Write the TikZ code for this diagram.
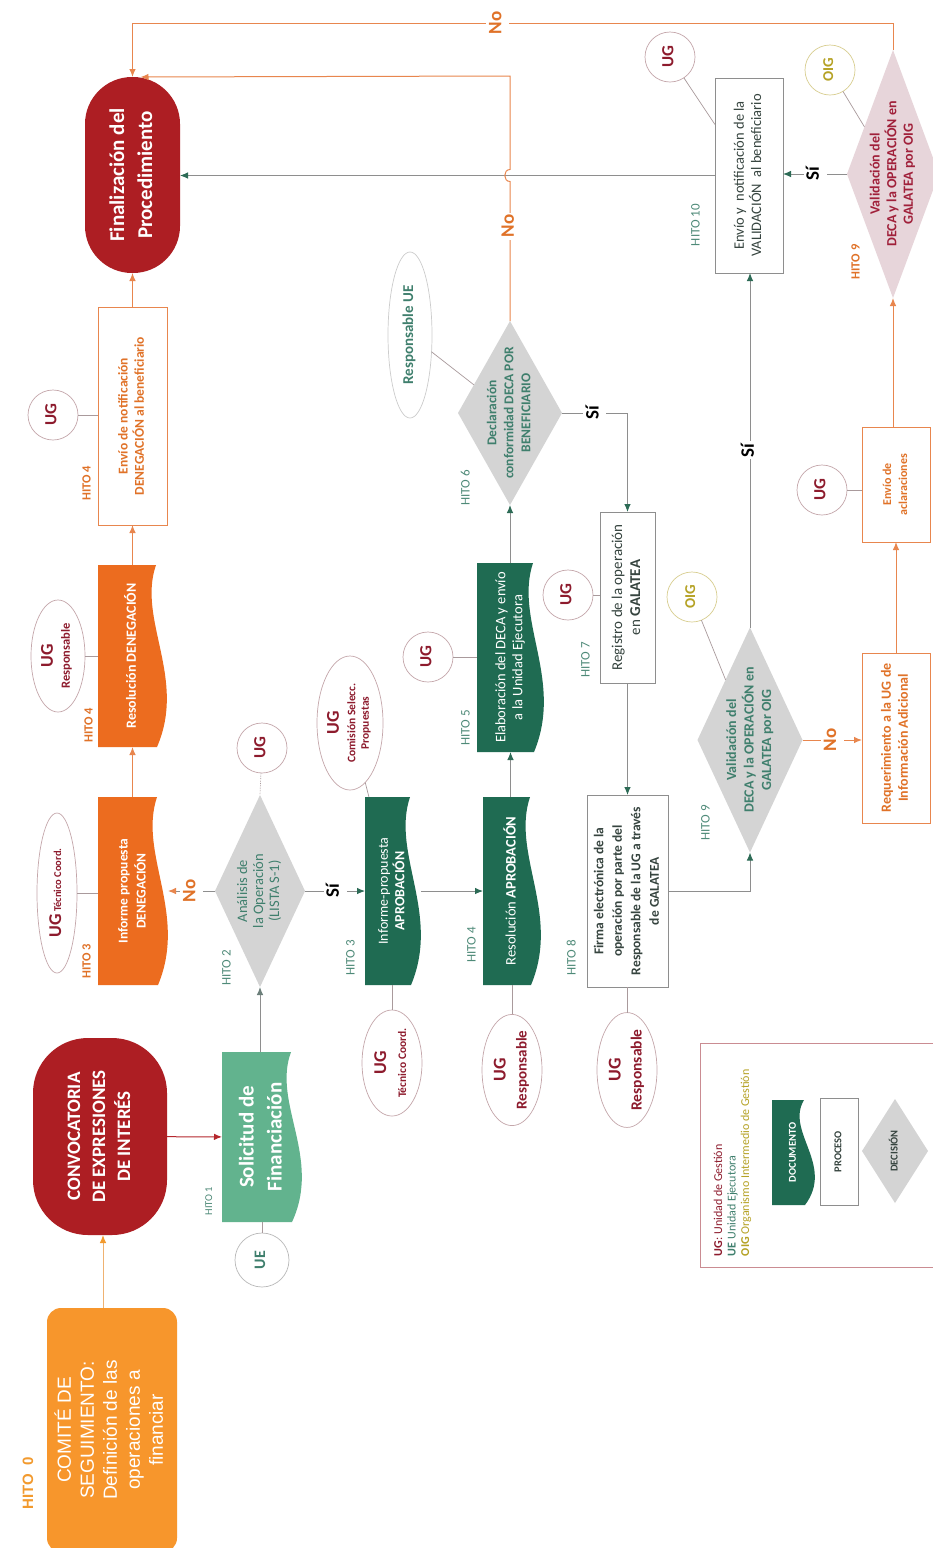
\documentclass[tikz,border=0pt]{standalone}
\usepackage{graphicx}
\usepackage{fontspec}
\setmainfont{Carlito}
\newfontfamily\arialf{Liberation Sans}
\usetikzlibrary{shapes.geometric,arrows.meta,backgrounds,calc}
\definecolor{finred}{HTML}{AD1E23}
\definecolor{docor}{HTML}{EC6C1F}
\definecolor{ortxt}{HTML}{E07228}
\definecolor{orline}{HTML}{E8864E}
\definecolor{comor}{HTML}{F7962C}
\definecolor{comline}{HTML}{EFB271}
\definecolor{hitoc}{HTML}{F29A2E}
\definecolor{dgreen}{HTML}{1F6B52}
\definecolor{lgreen}{HTML}{62B38E}
\definecolor{tealtxt}{HTML}{3F7F6D}
\definecolor{hitoteal}{HTML}{4E8A78}
\definecolor{dmgray}{HTML}{D4D4D4}
\definecolor{pinkd}{HTML}{E7D5DA}
\definecolor{ugred}{HTML}{8D1B2D}
\definecolor{valred}{HTML}{A0203A}
\definecolor{oigy}{HTML}{B5A225}
\definecolor{oigb}{HTML}{D8CE90}
\definecolor{lnray}{HTML}{8E8E8E}
\definecolor{connc}{HTML}{A99A9C}
\definecolor{ellb}{HTML}{C4A6AA}
\definecolor{boxtxt}{HTML}{36443F}
\definecolor{legb}{HTML}{CA8C92}
\definecolor{tipgreen}{HTML}{2D6B56}
\definecolor{redarr}{HTML}{B5272D}
\newcommand{\fsz}[2]{\fontsize{#1}{#2}\selectfont}
\newcommand{\rtx}[1]{\rotatebox{90}{\begin{tabular}{@{}c@{}}#1\end{tabular}}}
\newcommand{\docfill}[2]{\begin{scope}[on background layer]\fill[#2] (#1.north west) -- ($(#1.north east)+(-11,0)$) .. controls ($(#1.north east)!0.3!(#1.south east)+(-30,0)$) and ($(#1.north east)!0.62!(#1.south east)+(20,0)$) .. ($(#1.south east)+(-10,0)$) -- (#1.south west) -- cycle;\end{scope}}
\begin{document}
\begin{tikzpicture}[x=1pt,y=-1pt,
  every node/.style={inner sep=0pt,outer sep=0pt},
  docn/.style={rectangle},
  term/.style={rectangle, text=white},
  pbox/.style={rectangle, draw=lnray, line width=0.9pt, fill=white, text=boxtxt},
  obox/.style={rectangle, draw=orline, line width=0.9pt, fill=white, text=ortxt},
  circ/.style={circle, draw=ellb, line width=0.7pt, fill=white, minimum size=50pt},
  ell/.style={ellipse, draw=ellb, line width=0.7pt, fill=white},
  dia/.style={diamond, fill=dmgray},
  gline/.style={draw=connc, line width=0.7pt},
  garr/.style={draw=lnray, line width=0.9pt, -{Latex[length=8pt,width=6.5pt,color=tipgreen]}},
  oarr/.style={draw=orline, line width=1pt, -{Latex[length=8pt,width=6.5pt]}},
  lab/.style={fill=white, inner sep=2pt, font={\fsz{19}{19}\bfseries}},
  hg/.style={text=hitoteal, font={\fsz{13}{13}}},
  ho/.style={text=ortxt, font={\fsz{12.5}{12.5}\bfseries}},
  ugt/.style={text=ugred, font={\fsz{17}{17}\bfseries}},
]
\useasboundingbox (0,0) rectangle (933,1548);
\begin{scope}[on background layer]\fill[white] (0,0) rectangle (933,1548);\end{scope}

% ---------- terminals
\node[term, fill=finred, rounded corners=47pt, minimum width=95pt, minimum height=196pt, font={\fsz{21}{28}\bfseries}] (fin) at (132.5,175) {\rtx{Finalización del\\Procedimiento}};
\node[term, fill=finred, rounded corners=55pt, minimum width=134pt, minimum height=197pt, font={\fsz{19}{25}\bfseries}] (conv) at (100,1136.5) {\rtx{CONVOCATORIA\\DE EXPRESIONES\\DE INTERÉS}};
\node[term, fill=comor, rounded corners=14pt, minimum width=130pt, minimum height=244pt, font={\arialf\fsz{19}{23}}] (comite) at (112,1430) {\rtx{COMITÉ DE\\SEGUIMIENTO:\\Definición de las\\operaciones a\\financiar}};

% ---------- documents
\node[docn, minimum width=69pt, minimum height=182pt, text=white, font={\fsz{14}{16}\bfseries}] (resden) at (132.5,656) {\rtx{Resolución DENEGACIÓN}\hspace{26pt}};
\docfill{resden}{docor}
\node[docn, minimum width=70pt, minimum height=188pt, text=white, font={\fsz{13.5}{18}\bfseries}] (infden) at (133,891) {\rtx{Informe propuesta\\DENEGACIÓN}\hspace{18pt}};
\docfill{infden}{docor}
\node[docn, minimum width=80pt, minimum height=170pt, text=white, font={\fsz{21}{28}\bfseries}] (sol) at (262,1137) {\rtx{Solicitud de\\Financiación}\hspace{8pt}};
\docfill{sol}{lgreen}
\node[docn, minimum width=56pt, minimum height=188pt, text=white, font={\fsz{14}{15.5}}] (infapr) at (393,891) {\rtx{Informe-propuesta\\\textbf{APROBACIÓN}}\hspace{16pt}};
\docfill{infapr}{dgreen}
\node[docn, minimum width=58pt, minimum height=188pt, text=white, font={\fsz{14.5}{16}}] (resapr) at (512,891) {\rtx{Resolución \textbf{APROBACIÓN}}\hspace{9pt}};
\docfill{resapr}{dgreen}
\node[docn, minimum width=67pt, minimum height=189pt, text=white, font={\fsz{14.5}{17}}] (elab) at (510.5,657.5) {\rtx{Elaboración del DECA y envío\\a la Unidad Ejecutora}\hspace{7pt}};
\docfill{elab}{dgreen}

% ---------- process boxes
\node[obox, minimum width=69pt, minimum height=218pt, font={\fsz{13.5}{16}\bfseries}] (envden) at (132.5,416) {\rtx{Envío de notificación\\DENEGACIÓN al beneficiario}};
\node[pbox, minimum width=55pt, minimum height=171pt, font={\fsz{15}{18}}] (reg) at (627.5,597.5) {\rtx{Registro de la operación\\en \textbf{GALATEA}}};
\node[pbox, minimum width=81pt, minimum height=192pt, font={\fsz{13.5}{18.5}\bfseries}] (firma) at (627.5,891) {\rtx{Firma electrónica de la\\operación por parte del\\Responsable de la UG a través\\de GALATEA}};
\node[pbox, minimum width=68pt, minimum height=195pt, font={\fsz{14.5}{17}}] (envval) at (749,175.5) {\rtx{Envío y\ \ notificación de la\\VALIDACIÓN\ \ al beneficiario}};
\node[obox, minimum width=68pt, minimum height=170pt, font={\fsz{14}{17}\bfseries}] (req) at (896,738) {\rtx{Requerimiento a la UG de\\Información Adicional}};
\node[obox, minimum width=68pt, minimum height=115pt, font={\fsz{12}{16}\bfseries}] (acl) at (896,484.5) {\rtx{Envío de\\aclaraciones}};

% ---------- decisions
\node[dia, minimum width=90pt, minimum height=192pt, label={[name=analisis-t, text=tealtxt, font={\fsz{14.5}{16}}]center:{\rtx{Análisis de\\la Operación\\(LISTA S-1)}}}] (analisis) at (260,891) {};
\node[dia, minimum width=104pt, minimum height=184pt, label={[name=decl-t, text=tealtxt, font={\fsz{13.5}{17}\bfseries}]center:{\rtx{Declaración\\conformidad DECA POR\\BENEFICIARIO}}}] (decl) at (510,413) {};
\node[dia, minimum width=105pt, minimum height=225pt, label={[name=val2-t, text=tealtxt, font={\fsz{14}{17.5}\bfseries}]center:{\rtx{Validación del\\DECA y la OPERACIÓN en\\GALATEA por OIG}}}] (val2) at (750,740) {};
\node[dia, fill=pinkd, minimum width=92pt, minimum height=248pt, label={[name=val1-t, text=valred, font={\fsz{14}{16.5}\bfseries}]center:{\rtx{Validación del\\DECA y la OPERACIÓN en\\GALATEA por OIG}}}] (val1) at (893,174) {};

% ---------- actors
\node[circ, ugt] (ug1) at (53,415) {\rtx{UG}};
\node[circ, ugt] (ug2) at (262,748) {\rtx{UG}};
\node[circ, ugt] (ug3) at (428,657) {\rtx{UG}};
\node[circ, ugt] (ug4) at (568,595) {\rtx{UG}};
\node[circ, ugt] (ug5) at (670,57) {\rtx{UG}};
\node[circ, ugt] (ug6) at (822,490) {\rtx{UG}};
\node[circ, minimum size=54pt, draw=gray!55, text=tealtxt, font={\fsz{16}{16}\bfseries}] (ue) at (262,1260) {\rtx{UE}};
\node[circ, draw=oigb, text=oigy, font={\fsz{15}{15}\bfseries}] (oig2) at (692,597) {\rtx{OIG}};
\node[circ, draw=oigb, text=oigy, font={\fsz{15}{15}\bfseries}] (oig1) at (830,70) {\rtx{OIG}};
\node[ell, minimum width=54pt, minimum height=112pt, text=ugred, font={\fsz{12.5}{17}\bfseries}] (ugresp1) at (58,656) {\rtx{{\fsz{18}{18}UG}\\Responsable}};
\node[ell, minimum width=40pt, minimum height=160pt, text=ugred, font={\fsz{10.5}{12}\bfseries}] (ugtec1) at (57,893) {\rtx{{\fsz{18}{18}UG} Técnico Coord.}};
\node[ell, minimum width=66pt, minimum height=134pt, text=ugred, font={\fsz{11.5}{13.5}\bfseries}] (ugcom) at (350,723) {\rtx{{\fsz{18}{18}UG}\\[3pt]Comisión Selecc.\\Propuestas}};
\node[ell, minimum width=60pt, minimum height=106pt, text=ugred, font={\fsz{11.5}{20}\bfseries}] (ugtec2) at (392,1063) {\rtx{{\fsz{18}{18}UG}\\Técnico Coord.}};
\node[ell, minimum width=60pt, minimum height=108pt, text=ugred, font={\fsz{15}{21}\bfseries}] (ugresp2) at (512,1070) {\rtx{{\fsz{18}{18}UG}\\Responsable}};
\node[ell, minimum width=60pt, minimum height=114pt, text=ugred, font={\fsz{15.5}{21}\bfseries}] (ugresp3) at (627,1070) {\rtx{{\fsz{18}{18}UG}\\Responsable}};
\node[ell, draw=gray!40, minimum width=44pt, minimum height=166pt, text=tealtxt, font={\fsz{15}{15}\bfseries}] (respue) at (410,335) {\rtx{Responsable UE}};

% ---------- hitos
\node[text=hitoc, font={\arialf\fsz{15}{15}\bfseries}] (h0) at (30,1483) {\rtx{HITO\ \ 0}};
\node[hg, font={\fsz{10.5}{10.5}}] (h1) at (210,1201) {\rtx{HITO 1}};
\node[hg] (h2) at (228,968) {\rtx{HITO 2}};
\node[ho] (h3a) at (88,961) {\rtx{HITO 3}};
\node[ho] (h4b) at (90,725) {\rtx{HITO 4}};
\node[ho] (h4a) at (88,483) {\rtx{HITO 4}};
\node[hg] (h3b) at (352,958) {\rtx{HITO 3}};
\node[hg] (h4c) at (473,945) {\rtx{HITO 4}};
\node[hg] (h5) at (467,728) {\rtx{HITO 5}};
\node[hg] (h6) at (467,488) {\rtx{HITO 6}};
\node[hg] (h7) at (587,660) {\rtx{HITO 7}};
\node[hg] (h8) at (573,958) {\rtx{HITO 8}};
\node[hg] (h9b) at (707,823) {\rtx{HITO 9}};
\node[hg] (h10) at (697,225) {\rtx{HITO 10}};
\node[ho] (h9a) at (857,262) {\rtx{HITO 9}};

% ---------- legend
\node[rectangle, draw=legb, line width=0.8pt, minimum width=245pt, minimum height=224pt] (legend) at (822.5,1155) {};
\node[anchor=south, font={\fsz{12}{13.5}}] (legtxt) at (733,1256) {\rotatebox{90}{\begin{tabular}{@{}l@{}}\textcolor{ugred}{\textbf{UG}: Unidad de Gestión}\\ \textcolor{tealtxt}{\textbf{UE} Unidad Ejecutora}\\ \textcolor{oigy}{\textbf{OIG} Organismo Intermedio de Gestión}\end{tabular}}};
\node[docn, minimum width=43pt, minimum height=105pt, text=white, font={\fsz{10.5}{12}\bfseries}] (docleg) at (793.5,1152.5) {\rtx{DOCUMENTO}\hspace{9pt}};
\docfill{docleg}{dgreen}
\node[pbox, minimum width=38pt, minimum height=107pt, font={\fsz{10.5}{12}\bfseries}] (proleg) at (839,1151.5) {\rtx{PROCESO}};
\node[dia, minimum width=66pt, minimum height=104pt, label={[name=decleg-t, text=boxtxt, font={\fsz{10.5}{12}\bfseries}]center:{\rtx{DECISIÓN}}}] (decleg) at (895,1151) {};

% ---------- connectors
\coordinate (ytop) at (0,23);
\coordinate (ymid) at (0,76);
\coordinate (cx103) at (103,0);
\draw[redarr, line width=1pt, -{Latex[length=8pt,width=6.5pt]}] (conv) -- (sol);
\draw[comline, line width=1pt, -{Latex[length=8pt,width=6.5pt,color=hitoc]}] (comite.north -| cx103) -- (conv.south -| cx103);
\draw[draw=lnray, line width=0.9pt, -{Latex[length=8pt,width=6.5pt,color=gray!70!tealtxt]}] (analisis.south |- sol.north) -- (analisis.south);
\draw[draw=lnray, line width=0.9pt, -{Latex[length=8pt,width=6.5pt,color=orline]}] (analisis.west) -- node[lab, text=ortxt]{\rtx{No}} (analisis.west -| infden.east);
\draw[garr] (analisis.east) -- node[lab]{\rtx{Sí}} (infapr.west |- analisis.east);
\draw[oarr] (resden.south |- infden.north) -- (resden.south);
\draw[oarr] (resden.north) -- (envden.south);
\draw[oarr] (envden.north) -- (fin.south);
\draw[garr] (infapr.east) -- (resapr.west |- infapr.east);
\draw[garr] (elab.south |- resapr.north) -- (elab.south);
\draw[garr] (decl.south |- elab.north) -- (decl.south);
\draw[garr] (decl.east) -| node[pos=0.25, lab]{\rtx{Sí}} (reg.north);
\draw[garr] (reg.south) -- (firma.north);
\draw[garr] (firma.east) -| (val2.south);
\draw[garr] (val2.north) -- node[lab]{\rtx{Sí}} (envval.south -| val2.north);
\draw[oarr] (val2.east) -- node[lab, text=ortxt]{\rtx{No}} (req.west |- val2.east);
\draw[oarr] (req.north) -- (acl.south);
\draw[oarr] (val1.south |- acl.north) -- (val1.south);
\draw[garr] (val1.west) -- node[lab]{\rtx{Sí}} (envval.east |- val1.west);
\draw[garr] (envval.west) -- (fin.east |- envval.west);
\draw[oarr] (val1.north) -- (val1.north |- ytop) -- node[pos=0.52, lab, text=ortxt]{\rtx{No}} (fin.north |- ytop) -- (fin.north);
\coordinate (jmp) at (decl.north |- envval.west);
\draw[oarr] (decl.north) -- node[pos=0.68, lab, text=ortxt]{\rtx{No}} ([yshift=-6pt]jmp) .. controls +(-7pt,0) and +(-7pt,0) .. ([yshift=6pt]jmp) -- (decl.north |- ymid) -- ([xshift=8pt]fin.north);

\draw[gline] (ug1) -- (envden.west |- ug1);
\draw[gline] (ugresp1) -- (resden.west |- ugresp1);
\draw[gline] (ugtec1) -- (infden.west |- ugtec1);
\draw[gline, densely dotted] (ug2) -- (analisis.north);
\draw[gline] (ue) -- (sol.south -| ue);
\draw[gline] (ugcom) -- (infapr);
\draw[gline] (ugtec2) -- (infapr.south -| ugtec2);
\draw[gline] (ugresp2) -- (resapr.south -| ugresp2);
\draw[gline] (ug3) -- (elab.west |- ug3);
\draw[gline] (respue) -- (decl);
\draw[gline] (ug4) -- (reg.west |- ug4);
\draw[gline] (ugresp3) -- (firma.south -| ugresp3);
\draw[gline] (oig2) -- (val2);
\draw[gline] (ug5) -- (envval);
\draw[gline] (ug6) -- (acl.west |- ug6);
\draw[gline] (oig1) -- (val1);
\end{tikzpicture}
\end{document}
